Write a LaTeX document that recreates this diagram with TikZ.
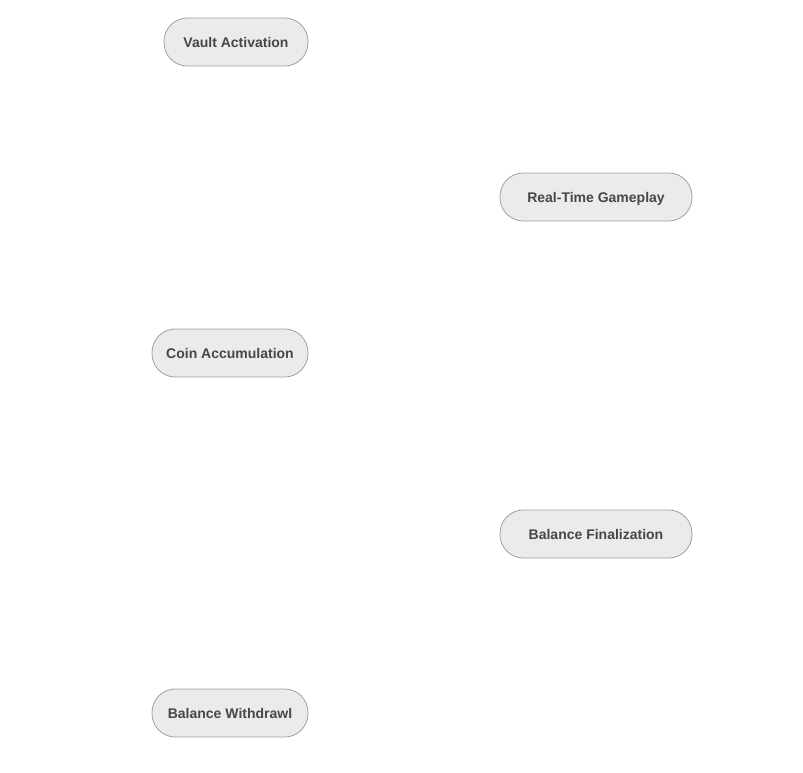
\documentclass[tikz,border=0pt]{standalone}
\usepackage{fontspec}
\setmainfont{Liberation Sans}
\begin{document}
\begin{tikzpicture}[x=0.75pt,y=-0.75pt,
  pill/.style={draw=black!37, line width=0.6pt, fill=black!8, rounded corners=17.5pt,
    minimum height=36pt, inner sep=0pt, text height=7.5pt, text depth=0pt, text=black!72,
    font=\bfseries\fontsize{10.5}{12}\selectfont}]
\useasboundingbox (0,0) rectangle (803,772);
\node[pill, minimum width=108pt] (va) at (236,42) {Vault Activation};
\node[pill, minimum width=144pt] (rt) at (596,197) {Real-Time Gameplay};
\node[pill, minimum width=117pt] (ca) at (230,353) {Coin Accumulation};
\node[pill, minimum width=144pt] (bf) at (596,534) {Balance Finalization};
\node[pill, minimum width=117pt] (bw) at (230,713) {Balance Withdrawl};
\end{tikzpicture}
\end{document}
